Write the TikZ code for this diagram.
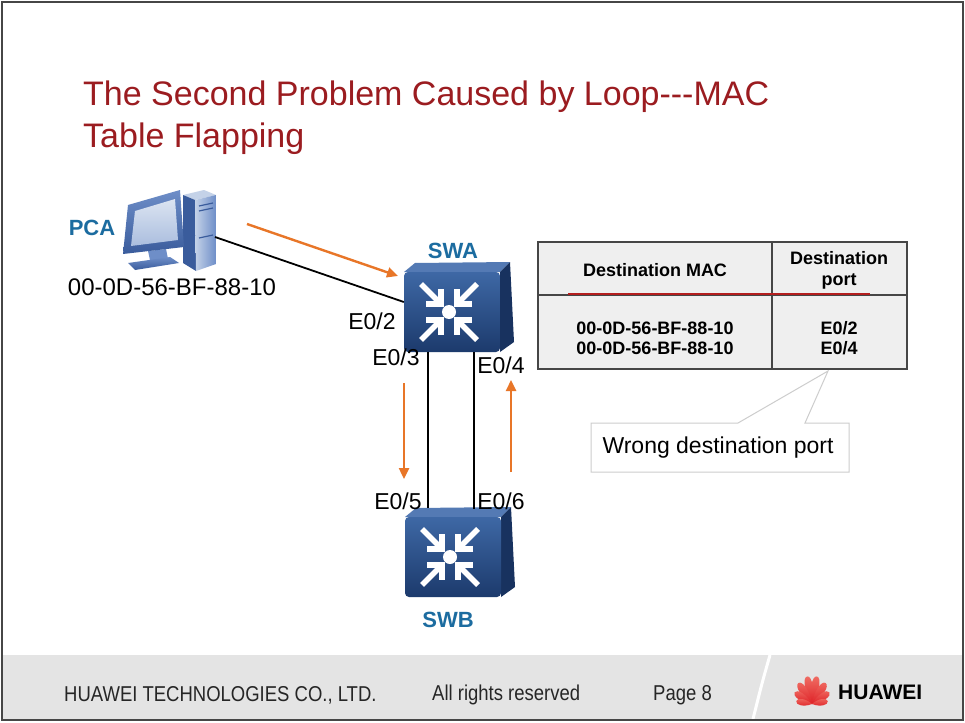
\documentclass[tikz,border=0pt]{standalone}
\usepackage{fontspec}
\setmainfont{Liberation Sans}
\newfontfamily\narrowfont[FakeStretch=0.86]{Liberation Sans}
\usetikzlibrary{arrows.meta,calc}

\definecolor{titlered}{RGB}{155,28,32}
\definecolor{labelblue}{RGB}{28,108,160}
\definecolor{flow}{RGB}{232,118,40}
\definecolor{footgray}{RGB}{228,228,228}
\definecolor{tablegray}{RGB}{239,239,239}
\definecolor{framegray}{RGB}{70,70,70}
\definecolor{accentred}{RGB}{180,30,30}
\definecolor{hwred}{RGB}{222,32,38}
\definecolor{hwredlight}{RGB}{240,110,100}
\definecolor{swfront1}{RGB}{62,104,165}
\definecolor{swfront2}{RGB}{28,58,108}
\definecolor{swtopc}{RGB}{84,122,180}
\definecolor{swsidec}{RGB}{24,50,95}
\definecolor{calloutgray}{RGB}{205,205,205}
\definecolor{pcdark}{RGB}{58,92,156}
\definecolor{pcmid}{RGB}{110,142,200}
\definecolor{pclight}{RGB}{196,210,232}

\tikzset{
  port/.style={font=\fontsize{23}{26}\selectfont, inner sep=0pt},
  devlabel/.style={font=\bfseries\fontsize{22}{24}\selectfont, text=labelblue, inner sep=0pt},
  link/.style={line width=1.8pt, black},
  flowarrow/.style={flow, line width=2.4pt, -{Triangle[length=11pt,width=10pt]}},
  cell/.style={font=\bfseries\fontsize{18}{21}\selectfont, align=center, inner sep=0pt},
  footer/.style={font=\narrowfont\fontsize{21.5}{24}\selectfont, text=black!85, anchor=west, inner sep=0pt},
  titletext/.style={font=\fontsize{34}{38}\selectfont, text=titlered, anchor=base west, inner sep=0pt},
  swbox/.style={rectangle, minimum width=96pt, minimum height=80pt, inner sep=0pt},
  switchicon/.pic={
    % top bevel and right side of the box
    \fill[swtopc] (-48,-40) -- (-37,-49) -- (58,-50) -- (48,-40) -- cycle;
    \fill[swsidec] (48,-40) -- (58,-50) -- (62,30) -- (48,40) -- cycle;
    % front face
    \shade[top color=swfront1, bottom color=swfront2, rounded corners=4pt] (-48,-40) rectangle (48,40);
    % four arrows converging on the centre dot
    \begin{scope}[shift={(-3,0)}]
      \fill[white] (0,0) circle (7);
      \foreach \r in {0,90,180,270}{
        \draw[white, line width=5.5pt, rotate=\r] (-8,-23) -- (-8,-8) -- (-23,-8);
        \draw[white, line width=5.5pt, rotate=\r] (-10,-10) -- (-28,-28);
      }
    \end{scope}
  },
  petal/.pic={
    \shade[top color=hwredlight, bottom color=hwred]
      (0,0) .. controls (-\pw,-0.45*\pl) and (-0.9*\pw,-\pl) .. (0,-\pl)
            .. controls (0.9*\pw,-\pl) and (\pw,-0.45*\pl) .. (0,0);
  }
}

\begin{document}
\begin{tikzpicture}[x=1pt, y=-1pt]
  \path[use as bounding box] (0,0) rectangle (965,722);
  \fill[white] (0,0) rectangle (965,722);

  % footer band
  \fill[footgray] (3,655) rectangle (962,719);
  \draw[white, line width=3pt] (770,655) .. controls (762,683) .. (753,719);
  \node[footer] (company) at (64,695) {HUAWEI TECHNOLOGIES CO., LTD.};
  \node[footer] (rights) at (432,695) {All rights reserved};
  \node[footer] (page) at (653,695) {Page 8};

  % logo
  \begin{scope}[shift={(812,704)}]
    \foreach \a/\l/\w in {10/28/5.5, 33/25/5.5, 56/21/5, 80/16/4.5}{
      \def\pl{\l}\def\pw{\w}
      \pic[rotate=\a] {petal};
      \pic[rotate=-\a] {petal};
    }
  \end{scope}
  \node[font=\bfseries\fontsize{21}{24}\selectfont, anchor=west, inner sep=0pt] (brand) at (838,692) {HUAWEI};

  % outer frame
  \draw[framegray, line width=2pt] (2,2) rectangle (963,720);

  % title
  \node[titletext] (title1) at (83,106) {The Second Problem Caused by Loop-{}-{}-MAC};
  \node[titletext] (title2) at (83,148) {Table Flapping};

  % PC: tower
  \fill[pclight] (183,195) -- (204,190) -- (216,195) -- (195,200) -- cycle;
  \fill[pcdark] (183,195) -- (195,200) -- (196,271) -- (183,263) -- cycle;
  \shade[left color=pclight, right color=pcmid] (195,200) -- (216,195) -- (216,264) -- (196,271) -- cycle;
  \draw[pcdark, line width=1.2pt] (199,206) -- (213,203) (199,211) -- (213,208) (199,238) -- (213,235);
  % PC: monitor
  \fill[pcmid] (148,251) -- (166,249) -- (168,259) -- (150,260) -- cycle;
  \shade[top color=pcmid, bottom color=pcdark] (128,263) -- (170,257) -- (179,263) -- (135,270) -- cycle;
  \shade[top color=pcmid, bottom color=pcdark] (128,205) -- (180,190) -- (184,247) -- (123,254) -- cycle;
  \shade[top color=pclight!60!white, bottom color=pclight!70!pcmid] (135,211) -- (175,199) -- (178,240) -- (131,246) -- cycle;
  \coordinate (pcport) at (215,237);
  \node[devlabel] (pca) at (92,228) {PCA};
  \node[port, font=\fontsize{24}{26}\selectfont] (pcmac) at (172,287) {00-0D-56-BF-88-10};

  % switches
  \node[swbox] (swa) at (452,312) {};
  \pic at (swa.center) {switchicon};
  \node[devlabel] (swalabel) at (453,251) {SWA};
  \node[swbox] (swb) at (453,557) {};
  \pic at (swb.center) {switchicon};
  \node[devlabel] (swblabel) at (448,620) {SWB};

  % links
  \draw[link] (pcport) -- ([yshift=10pt]swa.west);
  \draw[link] ([xshift=-24pt]swa.south) -- ([xshift=-25pt,yshift=9pt]swb.north);
  \draw[link] ([xshift=22pt]swa.south) -- ([xshift=21pt,yshift=8pt]swb.north);

  % port labels
  \node[port] (e02) at (372,321) {E0/2};
  \node[port] (e03) at (396,357) {E0/3};
  \node[port] (e04) at (501,365) {E0/4};
  \node[port] (e05) at (398,501) {E0/5};
  \node[port] (e06) at (501,501) {E0/6};

  % frame flow
  \coordinate (f1s) at (247,224);
  \coordinate (f1e) at (398,276);
  \coordinate (f2s) at (404,383);
  \coordinate (f2e) at (404,479);
  \coordinate (f3s) at (511,472);
  \coordinate (f3e) at (511,380);
  \draw[flowarrow] (f1s) -- (f1e);
  \draw[flowarrow] (f2s) -- (f2e);
  \draw[flowarrow] (f3s) -- (f3e);

  % MAC address table
  \fill[tablegray] (538,242) rectangle (907,369);
  \draw[framegray, line width=1.2pt] (538,242) rectangle (907,369);
  \draw[framegray, line width=1.2pt] (772,242) -- (772,369);
  \draw[framegray, line width=1.2pt] (538,295) -- (907,295);
  \draw[accentred, line width=1.6pt] (568,294) -- (870,294);
  \node[cell] (hmac) at (655,270) {Destination MAC};
  \node[cell] (hport) at (839,270) {Destination\\port};
  \node[cell] (r1mac) at (655,328) {00-0D-56-BF-88-10};
  \node[cell] (r2mac) at (655,348) {00-0D-56-BF-88-10};
  \node[cell] (r1port) at (839,328) {E0/2};
  \node[cell] (r2port) at (839,348) {E0/4};

  % callout
  \coordinate (calltip) at (828,371);
  \draw[calloutgray, fill=white, line width=1pt]
    (591,423) -- (738,423) -- (calltip) -- (805,423) -- (849,423) -- (849,472) -- (591,472) -- cycle;
  \node[port, font=\fontsize{23}{26}\selectfont] (wrong) at (718,448) {Wrong destination port};
\end{tikzpicture}
\end{document}
